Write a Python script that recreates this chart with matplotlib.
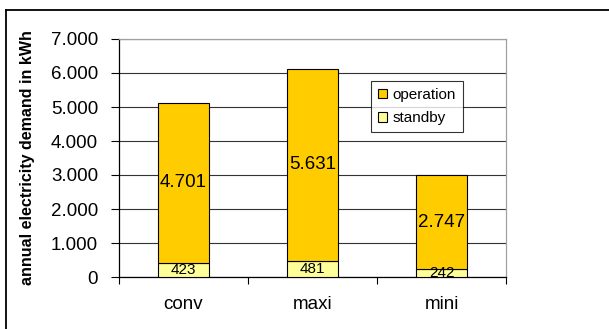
import numpy as np
import matplotlib.pyplot as plt
from matplotlib.patches import Patch
from matplotlib.lines import Line2D

plt.rcParams['font.family'] = ['Liberation Sans', 'DejaVu Sans']

# annual electricity demand per device type, kWh
categories = ['conv', 'maxi', 'mini']
standby = [423, 481, 242]
operation = [4701, 5631, 2747]

col_oper = '#FFCC00'
col_stby = '#FFFF99'

fig = plt.figure(figsize=(6.09, 3.29), dpi=100)
W, H = 609, 329
ax = fig.add_axes([119 / W, 1 - 277 / H, 387 / W, 238 / H])

x = np.arange(len(categories))
ax.bar(x, standby, width=0.4, color=col_stby, edgecolor='black', linewidth=0.8, zorder=3)
ax.bar(x, operation, width=0.4, bottom=standby, color=col_oper, edgecolor='black',
       linewidth=0.8, zorder=3)

def fmt(v):
    return f'{v:,}'.replace(',', '.')

for xi, s, o in zip(x, standby, operation):
    ax.text(xi, s / 2, fmt(s), ha='center', va='center', fontsize=11, zorder=4)
    ax.text(xi, s + o / 2, fmt(o), ha='center', va='center', fontsize=13.5, zorder=4)

ax.set_xlim(-0.5, 2.5)
ax.set_ylim(0, 7000)
ax.set_yticks(np.arange(0, 7001, 1000))
ax.set_yticklabels([fmt(v) for v in range(0, 7001, 1000)], fontsize=13.5)
ax.yaxis.grid(True, color='#333333', linewidth=0.8, zorder=0)
ax.tick_params(axis='y', direction='out', length=6, width=0.8, pad=9)

ax.set_xticks(x)
ax.set_xticklabels(categories, fontsize=13.5)
ax.set_xticks([-0.5, 0.5, 1.5, 2.5], minor=True)
ax.tick_params(axis='x', which='major', length=0, pad=14)
ax.tick_params(axis='x', which='minor', direction='out', length=5, width=0.8)

for side in ['left', 'bottom']:
    ax.spines[side].set_color('black')
    ax.spines[side].set_linewidth(0.9)
for side in ['top', 'right']:
    ax.spines[side].set_color('#a0a0a0')
    ax.spines[side].set_linewidth(0.9)

ax.set_ylabel('annual electricity demand in kWh', fontsize=11.5, fontweight='bold')
ax.yaxis.set_label_coords((35 - 119) / 387, 0.5)

handles = [Patch(facecolor=col_oper, edgecolor='black', linewidth=0.8),
           Patch(facecolor=col_stby, edgecolor='black', linewidth=0.8)]
leg = ax.legend(handles, ['operation', 'standby'], loc='upper left',
                bbox_to_anchor=((371 - 119) / 387, (277 - 81) / 238), borderaxespad=0,
                fontsize=11, frameon=True, fancybox=False, edgecolor='black',
                handlelength=0.6, handleheight=0.6, handletextpad=0.35,
                labelspacing=0.6, borderpad=0.45)
leg.get_frame().set_linewidth(0.8)
leg.set_zorder(5)

# outer chart frame
fig.add_artist(Line2D([6 / W, 1], [1 - 10 / H, 1 - 10 / H], color='black', linewidth=1.3))
fig.add_artist(Line2D([6 / W, 6 / W], [0, 1 - 10 / H], color='black', linewidth=1.3))

fig.savefig('out.png', dpi=100)
